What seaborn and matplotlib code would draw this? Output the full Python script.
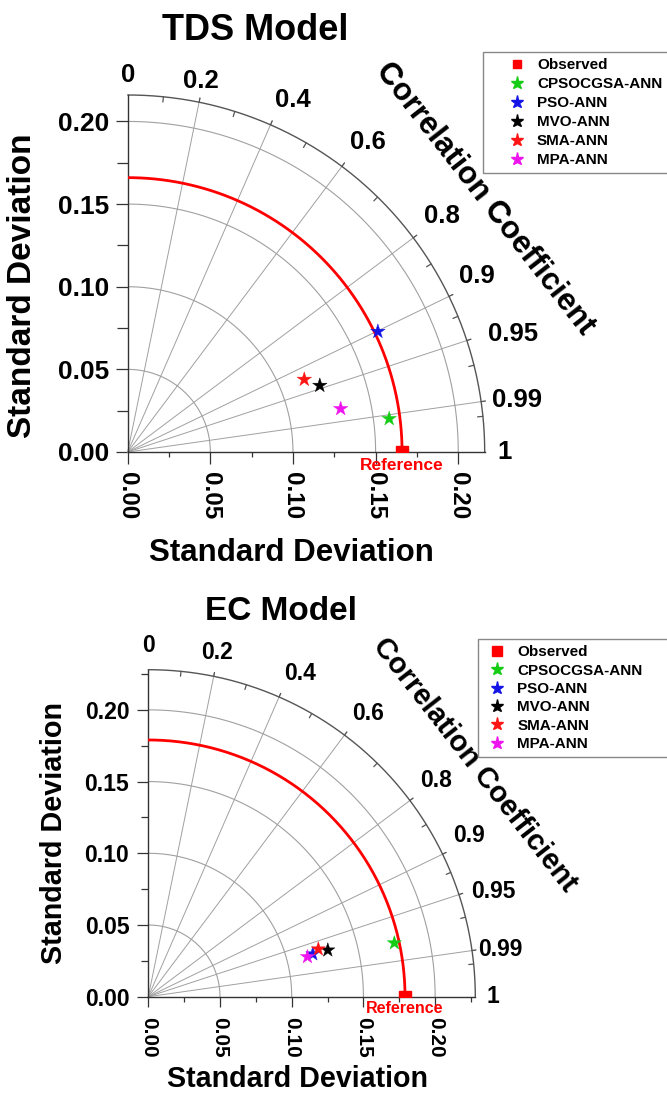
import numpy as np
import pandas as pd
import matplotlib
matplotlib.use("Agg")
import matplotlib.pyplot as plt
import seaborn as sns
from matplotlib.lines import Line2D
from matplotlib.ticker import FixedLocator

# ---------------- data ----------------
models = ["CPSOCGSA-ANN", "PSO-ANN", "MVO-ANN", "SMA-ANN", "MPA-ANN"]
model_colors = ["#14cc14", "#1414e6", "#000000", "#ff1414", "#ee14ee"]

tds_ref_std = 0.166
tds_std = [0.1595, 0.168, 0.123, 0.1155, 0.1315]
tds_corr = [0.992, 0.901, 0.945, 0.925, 0.980]

ec_ref_std = 0.179
ec_std = [0.1756, 0.1185, 0.1293, 0.1231, 0.1144]
ec_corr = [0.977, 0.968, 0.968, 0.963, 0.970]

corr_ticks = [0.0, 0.2, 0.4, 0.6, 0.8, 0.9, 0.95, 0.99, 1.0]
corr_tick_labels = ["0", "0.2", "0.4", "0.6", "0.8", "0.9", "0.95", "0.99", "1"]
corr_minor = [0.1, 0.3, 0.5, 0.7, 0.85, 0.925, 0.97, 0.995]
std_ticks = [0.00, 0.05, 0.10, 0.15, 0.20]
std_tick_labels = ["0.00", "0.05", "0.10", "0.15", "0.20"]
std_minor = [0.025, 0.075, 0.125, 0.175, 0.225]

titles = ["TDS Model", "EC Model"]

# ---------------- style ----------------
sns.set_theme(style="white")
plt.rcParams["font.family"] = ["Liberation Sans", "DejaVu Sans"]
plt.rcParams["font.weight"] = "bold"
plt.rcParams.update({"text.color": "black", "axes.labelcolor": "black",
                     "xtick.color": "black", "ytick.color": "black"})

W, H = 667, 1099
fig = plt.figure(figsize=(W / 100, H / 100), dpi=100)
PT = 0.72  # points per pixel at dpi 100

GRID = "#a0a0a0"
EDGE = "#333333"
# small angular nudges (degrees) of the correlation labels, as placed in the original
label_dtheta = [0.0, 0.3, -1.5, -0.9, 0.1, 0.85, -1.2, -0.5, 0.0]


def fx(px):
    return px / W


def fy(py):
    return 1 - py / H


def taylor(cfg, ref_std, stds, corrs):
    ox, oy, rpx, rmax = cfg["origin_x"], cfg["origin_y"], cfg["r_px"], cfg["rmax"]
    ax = fig.add_axes([fx(ox), fy(oy), rpx / W, rpx / H])
    ax.set_xlim(0, rmax)
    ax.set_ylim(0, rmax)
    ax.set_facecolor("white")
    for s in ["top", "right"]:
        ax.spines[s].set_visible(False)
    for s in ["left", "bottom"]:
        ax.spines[s].set_color(EDGE)
        ax.spines[s].set_linewidth(1.0)

    th = np.linspace(0, np.pi / 2, 300)
    # std grid arcs
    for r in std_ticks[1:]:
        ax.plot(r * np.cos(th), r * np.sin(th), color=GRID, lw=0.8, zorder=1)
    # outer arc
    ax.plot(rmax * np.cos(th), rmax * np.sin(th), color="#555555", lw=1.0, zorder=2, clip_on=False)
    # radial correlation lines
    for c in corr_ticks[1:-1]:
        a = np.arccos(c)
        ax.plot([0, rmax * 1.012 * np.cos(a)], [0, rmax * 1.012 * np.sin(a)],
                color=GRID, lw=0.7, zorder=1, clip_on=False)
        ax.plot([rmax * np.cos(a), rmax * 1.012 * np.cos(a)],
                [rmax * np.sin(a), rmax * 1.012 * np.sin(a)],
                color="#555555", lw=0.9, zorder=2, clip_on=False)
    for c in corr_minor:
        a = np.arccos(c)
        ax.plot([rmax * 0.985 * np.cos(a), rmax * np.cos(a)],
                [rmax * 0.985 * np.sin(a), rmax * np.sin(a)],
                color="#555555", lw=0.9, zorder=2)
    # reference arc
    ax.plot(ref_std * np.cos(th), ref_std * np.sin(th), color="#ff0000", lw=2.0, zorder=3)
    ax.plot([ref_std], [0], marker="s", color="#ff0000", ms=cfg["ref_ms"], zorder=4, clip_on=True)

    # model points
    corr_arr = np.array(corrs)
    std_arr = np.array(stds)
    df = pd.DataFrame({
        "model": models,
        "x": std_arr * corr_arr,
        "y": std_arr * np.sqrt(1 - corr_arr ** 2),
    })
    sns.scatterplot(data=df, x="x", y="y", hue="model", hue_order=models,
                    palette=dict(zip(models, model_colors)), marker="*",
                    s=cfg["star_s"], edgecolor="face", linewidth=0.3,
                    legend=False, ax=ax, zorder=6, clip_on=False)
    ax.set_xlabel("")
    ax.set_ylabel("")

    # ticks
    ax.xaxis.set_major_locator(FixedLocator(std_ticks))
    ax.yaxis.set_major_locator(FixedLocator(std_ticks))
    ax.set_xticklabels(std_tick_labels, rotation=-90, fontsize=cfg["xtick_fs"], fontweight="bold")
    ax.set_yticklabels(std_tick_labels, fontsize=cfg["ytick_fs"], fontweight="bold")
    mins = [m for m in std_minor if m < rmax]
    ax.xaxis.set_minor_locator(FixedLocator(mins))
    ax.yaxis.set_minor_locator(FixedLocator(mins))
    ax.tick_params(axis="x", which="major", direction="out", length=cfg["xmaj"] * PT,
                   width=0.9, color=EDGE, labelcolor="black", pad=cfg["xpad"] * PT, bottom=True)
    ax.tick_params(axis="x", which="minor", direction="out", length=cfg["xmin"] * PT,
                   width=0.9, color=EDGE, bottom=True)
    ax.tick_params(axis="y", which="major", direction="out", length=cfg["ymaj"] * PT,
                   width=0.9, color=EDGE, labelcolor="black", pad=cfg["ypad"] * PT, left=True)
    ax.tick_params(axis="y", which="minor", direction="out", length=cfg["ymin"] * PT,
                   width=0.9, color=EDGE, left=True)
    for lab in ax.get_xticklabels():
        lab.set_va("top")
        lab.set_ha("center")

    # reference label
    ax.annotate("Reference", xy=(ref_std, 0), xytext=(0, -cfg["ref_off"]),
                textcoords="offset pixels", ha="center", va="top", color="#ff0000",
                fontsize=cfg["ref_fs"], fontweight="bold", annotation_clip=False)

    # correlation labels (centre radius as a fraction of the outer radius)
    for c, lab, k, dt in zip(corr_ticks, corr_tick_labels, cfg["corr_k"], label_dtheta):
        a = np.arccos(c) + np.deg2rad(dt)
        R = rpx * k
        ax.annotate(lab, xy=(0, 0), xytext=(R * np.cos(a), R * np.sin(a)),
                    textcoords="offset pixels", ha="center", va="center",
                    fontsize=cfg["corr_fs"], fontweight="bold", color="black",
                    annotation_clip=False)

    ax.text(1.0 * rmax, 0.709 * rmax, "Correlation Coefficient", rotation=-52,
            rotation_mode="anchor", ha="center", va="center", fontsize=cfg["cc_fs"],
            fontweight="bold", color="black", clip_on=False)
    return ax


cfg_top = dict(origin_x=127.7, origin_y=452.0, r_px=357.0, rmax=0.216,
               ref_ms=8.5, star_s=120, xtick_fs=17.5, ytick_fs=19, xmaj=12, xmin=5,
               ymaj=12, ymin=11, xpad=8, ypad=6, ref_fs=12.5, ref_off=6,
               corr_fs=18.5, cc_fs=22.5,
               corr_k=[1.056, 1.059, 1.09, 1.098, 1.10, 1.095, 1.13, 1.10, 1.056])
cfg_bot = dict(origin_x=148.3, origin_y=996.7, r_px=327.0, rmax=0.228,
               ref_ms=8.5, star_s=115, xtick_fs=15, ytick_fs=16.6, xmaj=10, xmin=5,
               ymaj=11, ymin=7, xpad=10, ypad=8, ref_fs=11.5, ref_off=4,
               corr_fs=16.5, cc_fs=21,
               corr_k=[1.075, 1.073, 1.092, 1.097, 1.10, 1.099, 1.104, 1.085, 1.055])

ax1 = taylor(cfg_top, tds_ref_std, tds_std, tds_corr)
ax2 = taylor(cfg_bot, ec_ref_std, ec_std, ec_corr)

# titles and axis labels
fig.text(fx(255.5), fy(40), titles[0], ha="center", va="baseline", fontsize=26, fontweight="bold")
fig.text(fx(281), fy(620), titles[1], ha="center", va="baseline", fontsize=24, fontweight="bold")
fig.text(fx(23), fy(286), "Standard Deviation", rotation=90, ha="center", va="center",
         fontsize=24, fontweight="bold")
fig.text(fx(291.5), fy(553), "Standard Deviation", ha="center", va="center",
         fontsize=22.5, fontweight="bold")
fig.text(fx(54), fy(832.5), "Standard Deviation", rotation=90, ha="center", va="center",
         fontsize=20.7, fontweight="bold")
fig.text(fx(297.5), fy(1079), "Standard Deviation", ha="center", va="center",
         fontsize=20.6, fontweight="bold")


# legends
def make_legend(left_px, top_px, sq_ms, star_ms, hl, htp, spacing):
    handles = [Line2D([], [], ls="none", marker="s", color="#ff0000", ms=sq_ms)]
    for col in model_colors:
        handles.append(Line2D([], [], ls="none", marker="*", color=col, ms=star_ms))
    leg = fig.legend(handles, ["Observed"] + models, loc="upper left",
                     bbox_to_anchor=(fx(left_px), fy(top_px), fx(700) - fx(left_px), 0),
                     mode="expand", bbox_transform=fig.transFigure,
                     borderaxespad=0, frameon=True, fancybox=False, edgecolor="#888888",
                     framealpha=1, borderpad=0.4, handlelength=hl, handletextpad=htp,
                     labelspacing=spacing, prop={"size": 11, "weight": "bold"})
    leg.get_frame().set_linewidth(1.0)
    return leg


make_legend(483, 52, 5.5, 9.5, 3.66, -0.52, 0.33)
make_legend(478, 639, 7, 9.5, 1.7, 0.46, 0.29)

fig.savefig("out.png", dpi=100)
